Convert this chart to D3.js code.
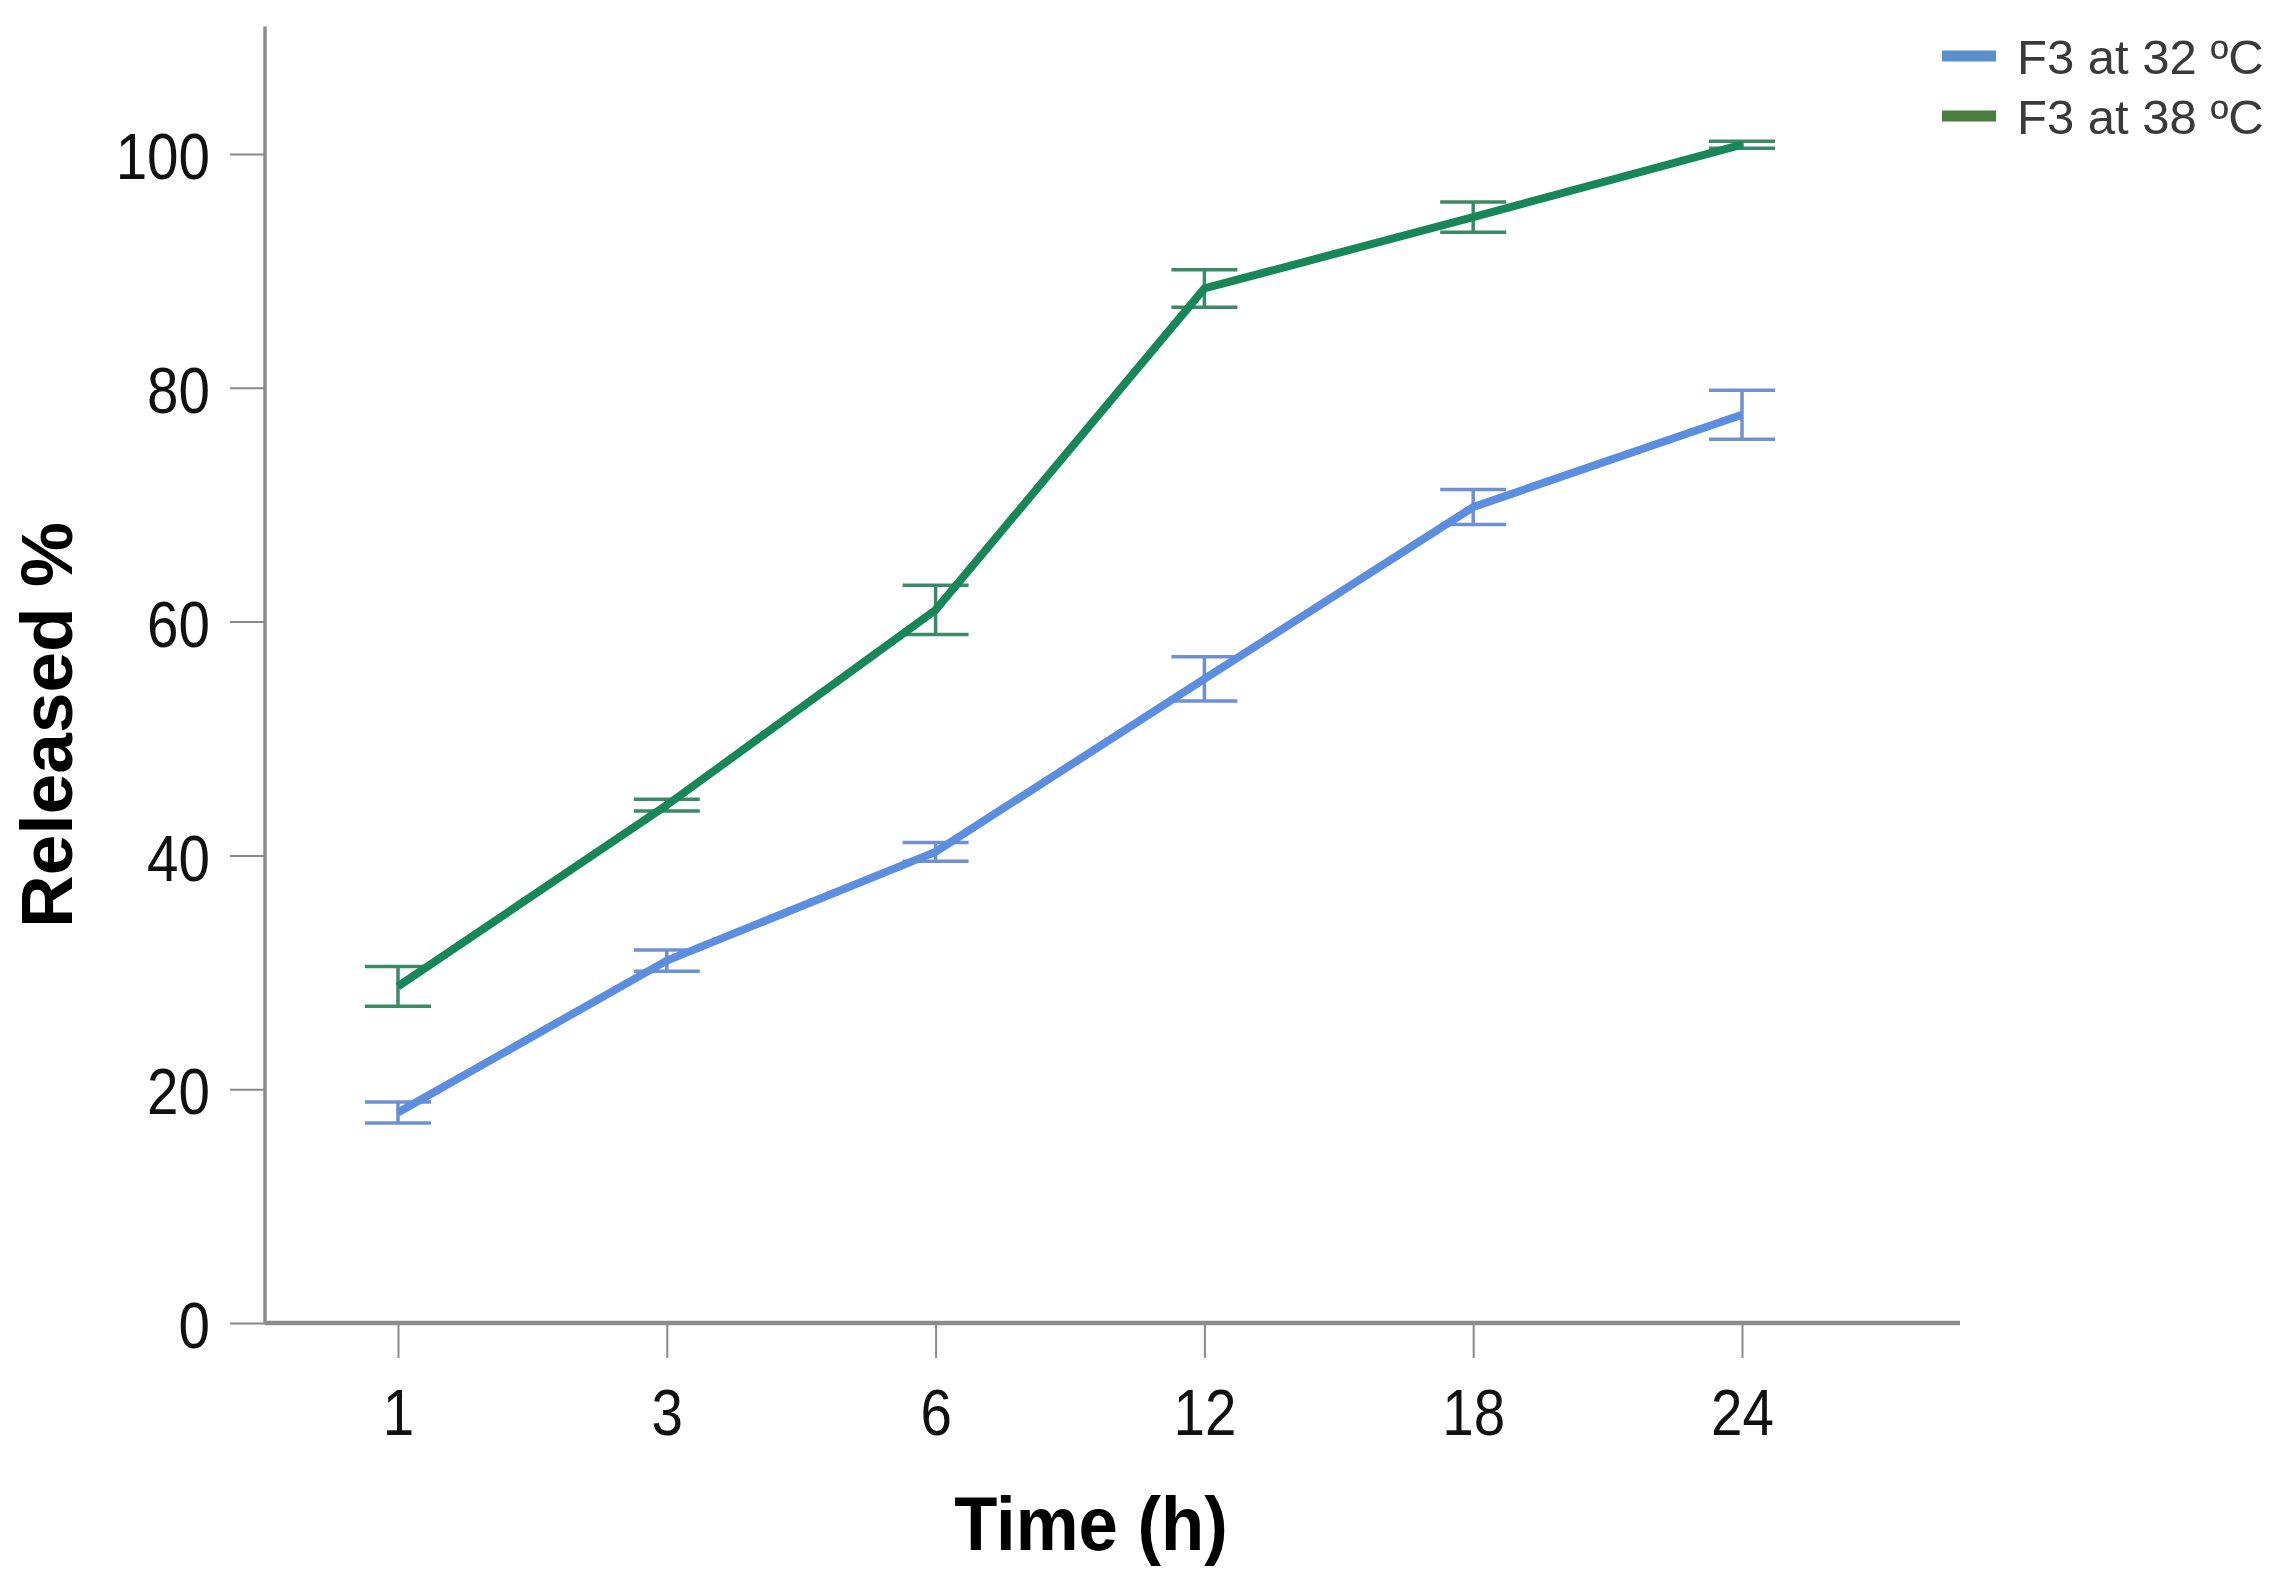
<!DOCTYPE html>
<html>
<head>
<meta charset="utf-8">
<script src="https://cdn.jsdelivr.net/npm/d3@7"></script>
<style>
  html, body { margin: 0; padding: 0; background: #fff; }
  svg { display: block; }
  text { font-family: "Liberation Sans", Arial, sans-serif; }
</style>
</head>
<body>
<svg id="chart" width="2288" height="1572"></svg>
<script>
// ---- Data ----
const timeLabels = ["1", "3", "6", "12", "18", "24"];
const seriesNames = ["F3 at 32 ºC", "F3 at 38 ºC"];
const mean32 = [18.0, 31.0, 40.3, 55.1, 69.8, 77.7];
const err32  = [0.9, 0.9, 0.8, 1.9, 1.5, 2.1];
const mean38 = [28.8, 44.3, 61.0, 88.5, 94.6, 100.8];
const err38  = [1.7, 0.5, 2.1, 1.6, 1.3, 0.3];
const yTicks = [0, 20, 40, 60, 80, 100];
const xTitle = "Time (h)";
const yTitle = "Released %";

const series = [
  { name: seriesNames[0], mean: mean32, err: err32, line: "#5b8ee0", bar: "#6f90d2", legend: "#5b8fc9" },
  { name: seriesNames[1], mean: mean38, err: err38, line: "#17875a", bar: "#3b8a66", legend: "#4a7d3e" }
];

const svg = d3.select("#chart");

const x = d3.scalePoint().domain(timeLabels).range([398, 1742]);
const y = d3.scaleLinear().domain([0, 100]).range([1323, 154]);
const axisLeftX = 265, axisRightX = 1960, yTopVal = 110.9;
const sx = 0.87;

// Y axis
const yAxis = svg.append("g").attr("transform", `translate(${axisLeftX},0)`)
  .call(d3.axisLeft(y).tickValues(yTicks).tickSize(35));
yAxis.select(".domain").remove();
yAxis.selectAll(".tick line").attr("stroke", "#8a8a8a").attr("stroke-width", 2);
yAxis.selectAll(".tick text").attr("fill", "#111").attr("font-size", 65)
  .attr("x", -55 / sx).attr("dy", "0.38em")
  .attr("transform", `scale(${sx},1)`);

svg.append("line").attr("x1", axisLeftX).attr("x2", axisLeftX)
  .attr("y1", y(yTopVal)).attr("y2", y(0))
  .attr("stroke", "#8c8c8c").attr("stroke-width", 3.5);

// X axis
const xAxis = svg.append("g").attr("transform", `translate(0,${y(0)})`)
  .call(d3.axisBottom(x).tickSize(35));
xAxis.select(".domain").remove();
xAxis.selectAll(".tick line").attr("stroke", "#8a8a8a").attr("stroke-width", 2);
xAxis.selectAll(".tick text").attr("fill", "#111").attr("font-size", 65)
  .attr("y", 112).attr("dy", 0)
  .attr("transform", `scale(${sx},1)`);

svg.append("line").attr("x1", axisLeftX).attr("x2", axisRightX)
  .attr("y1", y(0)).attr("y2", y(0))
  .attr("stroke", "#8c8c8c").attr("stroke-width", 4.5);

// Axis titles
svg.append("text").attr("x", 1091).attr("y", 1550).attr("text-anchor", "middle")
  .attr("font-size", 76).attr("font-weight", "bold").attr("fill", "#000")
  .attr("transform", "translate(1091,0) scale(0.93,1) translate(-1091,0)")
  .text(xTitle);
svg.append("text").attr("transform", "translate(72,725) rotate(-90)")
  .attr("text-anchor", "middle").attr("font-size", 73).attr("font-weight", "bold").attr("fill", "#000")
  .text(yTitle);

// Series
const line = d3.line().x((d, i) => x(timeLabels[i])).y(d => y(d));
const capHalf = 33;
series.forEach(s => {
  const g = svg.append("g");
  s.mean.forEach((m, i) => {
    const cx = x(timeLabels[i]);
    const lo = y(m - s.err[i]), hi = y(m + s.err[i]);
    g.append("line").attr("x1", cx).attr("x2", cx).attr("y1", lo).attr("y2", hi)
      .attr("stroke", s.bar).attr("stroke-width", 3.5);
    g.append("line").attr("x1", cx - capHalf).attr("x2", cx + capHalf).attr("y1", lo).attr("y2", lo)
      .attr("stroke", s.bar).attr("stroke-width", 3.5);
    g.append("line").attr("x1", cx - capHalf).attr("x2", cx + capHalf).attr("y1", hi).attr("y2", hi)
      .attr("stroke", s.bar).attr("stroke-width", 3.5);
  });
  g.append("path").datum(s.mean).attr("d", line)
    .attr("fill", "none").attr("stroke", s.line).attr("stroke-width", 8)
    .attr("stroke-linejoin", "round");
});

// Legend
const legend = svg.append("g");
series.forEach((s, i) => {
  const ly = 56 + i * 60;
  legend.append("line").attr("x1", 1942).attr("x2", 1996).attr("y1", ly).attr("y2", ly)
    .attr("stroke", s.legend).attr("stroke-width", 11);
  legend.append("text").attr("x", 2017).attr("y", ly + 18).attr("font-size", 49)
    .attr("fill", "#3a3a3a").text(s.name);
});
</script>
</body>
</html>
